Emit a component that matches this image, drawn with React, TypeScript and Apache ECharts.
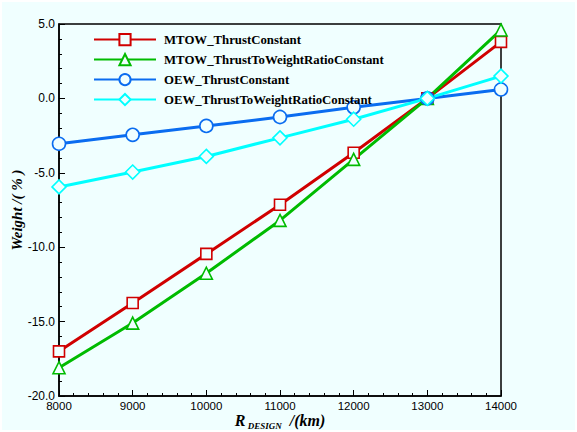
import React, { useEffect, useRef } from "react";
import * as echarts from "echarts";

const xValues = [8000, 9000, 10000, 11000, 12000, 13000, 14000];
const mtowThrustConstant = [-17.0, -13.75, -10.45, -7.15, -3.65, 0.0, 3.8];
const mtowTtwConstant = [-18.1, -15.1, -11.75, -8.2, -4.1, 0.0, 4.6];
const oewThrustConstant = [-3.05, -2.45, -1.85, -1.25, -0.6, 0.0, 0.6];
const oewTtwConstant = [-5.95, -4.95, -3.9, -2.65, -1.4, 0.0, 1.5];

const seriesNames = [
  "MTOW_ThrustConstant",
  "MTOW_ThrustToWeightRatioConstant",
  "OEW_ThrustConstant",
  "OEW_ThrustToWeightRatioConstant",
];

const BG = "#F0FFFF";

export default function App() {
  const ref = useRef<HTMLDivElement>(null);
  useEffect(() => {
    document.body.style.margin = "0";
    document.body.style.background = "#ffffff";
    const chart = echarts.init(ref.current!, null, { renderer: "svg" });
    const mk = (
      name: string,
      data: number[],
      color: string,
      symbol: string,
      size: number
    ) => ({
      name,
      type: "line",
      data: xValues.map((x, i) => [x, data[i]]),
      symbol,
      symbolSize: size,
      showAllSymbol: true,
      lineStyle: { color, width: 3 },
      itemStyle: { color: BG, borderColor: color, borderWidth: 1.6 },
      emphasis: { disabled: true },
    });
    chart.setOption({
      animation: false,
      backgroundColor: BG,
      grid: {
        left: 57,
        top: 22,
        width: 442,
        height: 372,
        outerBoundsMode: "none",
        containLabel: false,
        show: true,
        borderColor: "#000",
        borderWidth: 1.5,
        backgroundColor: "transparent",
      },
      legend: {
        orient: "vertical",
        left: 86,
        top: 26,
        itemWidth: 62,
        itemHeight: 14,
        itemGap: 6.8,
        data: seriesNames,
        textStyle: {
          fontFamily: "Liberation Serif",
          fontWeight: "bold",
          fontSize: 12.8,
          color: "#000",
          padding: [0, 0, 0, 3],
        },
      },
      xAxis: {
        type: "value",
        min: 8000,
        max: 14000,
        interval: 1000,
        axisLine: { show: true, onZero: false, lineStyle: { color: "#000", width: 1.5 } },
        axisTick: { show: true, inside: true, length: 6, lineStyle: { color: "#000", width: 1 } },
        minorTick: { show: true, splitNumber: 5, length: 3, lineStyle: { color: "#000", width: 1 } },
        splitLine: { show: false },
        axisLabel: {
          fontFamily: "Liberation Sans",
          fontSize: 11.5,
          color: "#000",
          margin: 4,
          formatter: (v: number) => String(v),
        },
        name: "{r|R}{s| DESIGN}{r| /(km)}",
        nameLocation: "middle",
        nameGap: 16,
        nameMoveOverlap: false,
        nameTextStyle: {
          rich: {
            r: {
              fontFamily: "Liberation Serif",
              fontStyle: "italic",
              fontWeight: "bold",
              fontSize: 16,
              lineHeight: 16,
              color: "#000",
              verticalAlign: "bottom",
            },
            s: {
              fontFamily: "Liberation Serif",
              fontStyle: "italic",
              fontWeight: "bold",
              fontSize: 9,
              lineHeight: 9,
              color: "#000",
              verticalAlign: "bottom",
              padding: [0, 4, -2, 0],
            },
          },
        },
      },
      yAxis: {
        type: "value",
        min: -20,
        max: 5,
        interval: 5,
        axisLine: { show: true, onZero: false, lineStyle: { color: "#000", width: 1.5 } },
        axisTick: { show: true, inside: true, length: 6, lineStyle: { color: "#000", width: 1 } },
        minorTick: { show: true, splitNumber: 5, length: 3, lineStyle: { color: "#000", width: 1 } },
        splitLine: { show: false },
        axisLabel: {
          fontFamily: "Liberation Sans",
          fontSize: 12,
          color: "#000",
          margin: 4,
          formatter: (v: number) => v.toFixed(1),
        },
        name: "Weight /( % )",
        nameLocation: "middle",
        nameGap: 35,
        nameMoveOverlap: false,
        nameTextStyle: {
          fontFamily: "Liberation Serif",
          fontStyle: "italic",
          fontWeight: "bold",
          fontSize: 15,
          color: "#000",
        },
      },
      series: [
        mk(seriesNames[0], mtowThrustConstant, "#D00000", "rect", 11),
        mk(seriesNames[1], mtowTtwConstant, "#00BB00", "triangle", 12),
        mk(seriesNames[2], oewThrustConstant, "#0A6CF0", "circle", 13),
        mk(seriesNames[3], oewTtwConstant, "#00FFFF", "diamond", 14),
      ],
    });
    return () => chart.dispose();
  }, []);
  return (
    <div style={{ width: 577, height: 432, background: "#fff", padding: 2, boxSizing: "border-box" }}>
      <div ref={ref} style={{ width: 573, height: 428 }} />
    </div>
  );
}
